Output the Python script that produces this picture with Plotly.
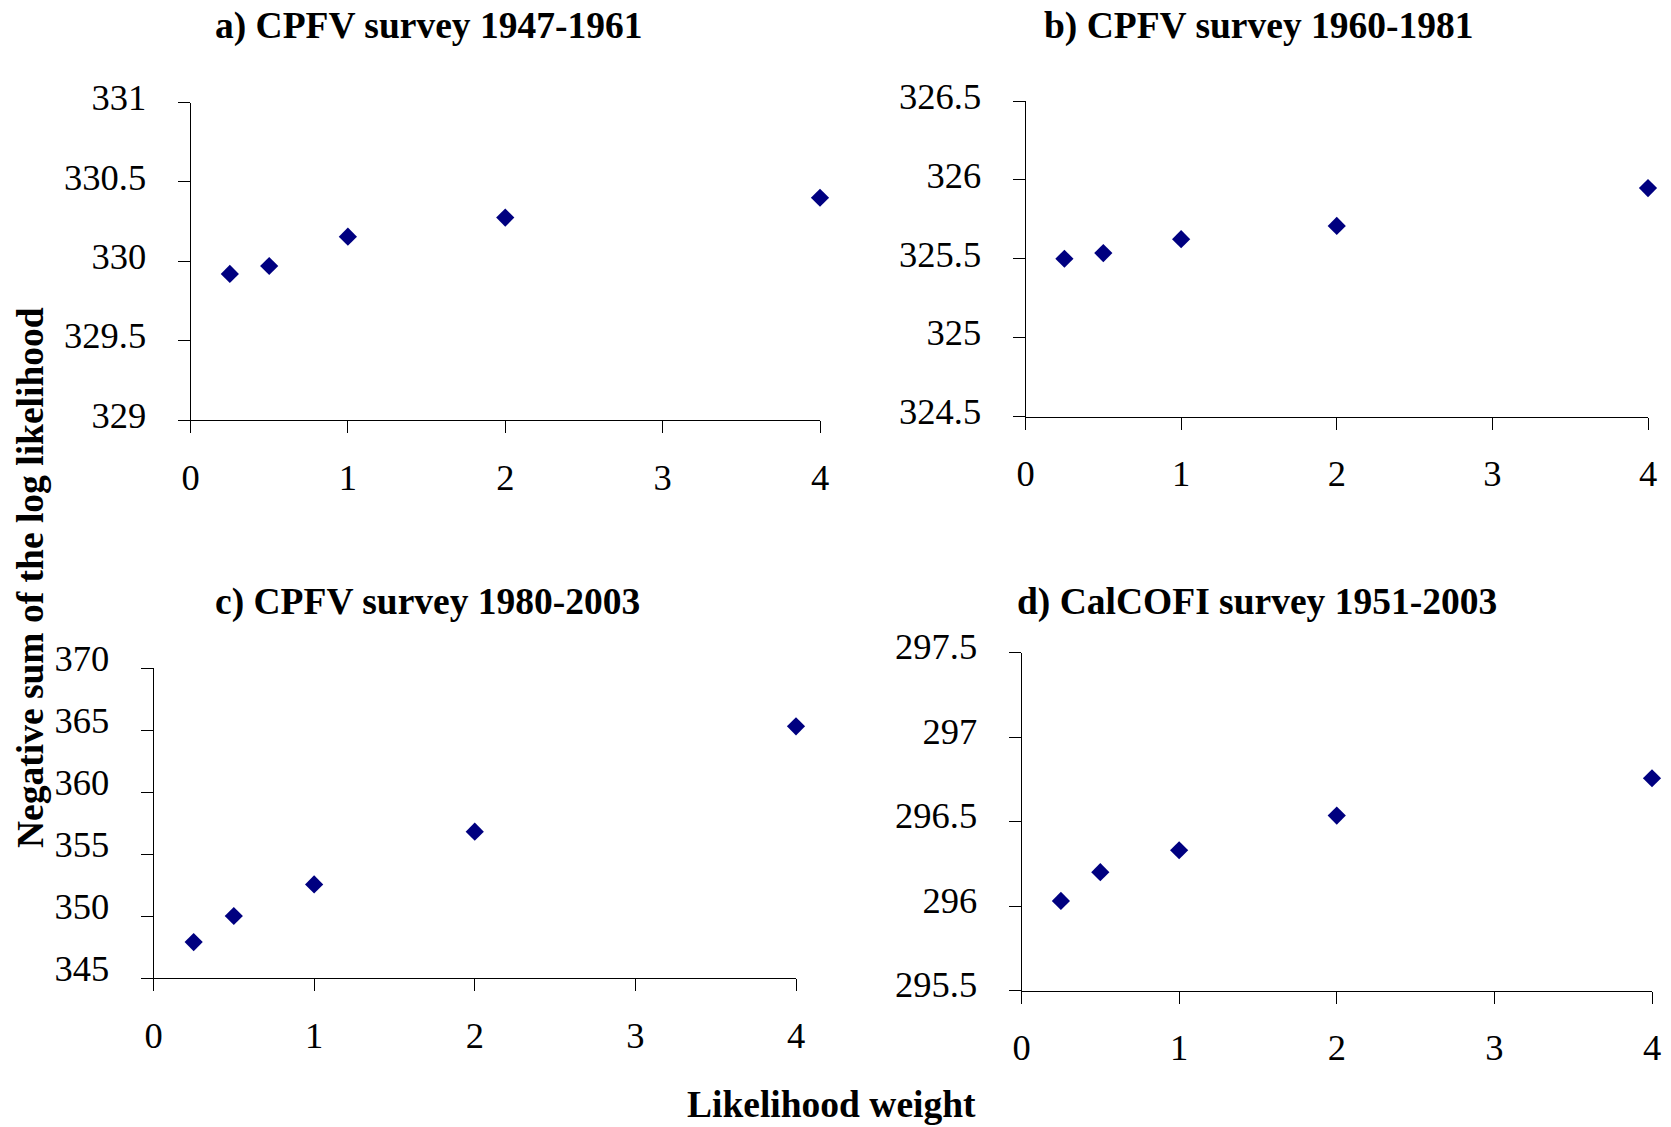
import plotly.graph_objects as go

# ---- data ----
weights = [0.25, 0.5, 1, 2, 4]
nll_a = [329.92, 329.97, 330.155, 330.275, 330.40]
nll_b = [325.50, 325.536, 325.624, 325.708, 325.948]
nll_c = [347.9, 350.0, 352.55, 356.8, 365.3]
nll_d = [296.03, 296.20, 296.33, 296.535, 296.756]

titles = ["a) CPFV survey 1947-1961", "b) CPFV survey 1960-1981",
          "c) CPFV survey 1980-2003", "d) CalCOFI survey 1951-2003"]
x_ticks = [0, 1, 2, 3, 4]
y_ticks_a = [329, 329.5, 330, 330.5, 331]
y_ticks_b = [324.5, 325, 325.5, 326, 326.5]
y_ticks_c = [345, 350, 355, 360, 365, 370]
y_ticks_d = [295.5, 296, 296.5, 297, 297.5]
y_label = "Negative sum of the log likelihood"
x_label = "Likelihood weight"

W, H = 1671, 1127
FONT = "Liberation Serif, Times New Roman, serif"
NAVY = "#000080"

# panel boxes in page pixels (left, right, top, bottom)
boxes = [(190.5, 820, 102.5, 420), (1025.5, 1648, 101, 416.5),
         (153.5, 796, 668, 978), (1021.5, 1652, 652.5, 990.5)]
series = [nll_a, nll_b, nll_c, nll_d]
yticks = [y_ticks_a, y_ticks_b, y_ticks_c, y_ticks_d]
label_shift = [-5, -5, -10, -6]
title_pos = [(428, 26), (1259, 26), (427, 602), (1257, 602)]


def px(x):
    return x / W


def py(y):
    return 1 - y / H


fig = go.Figure()
layout = dict(
    template="none",
    width=W, height=H, margin=dict(l=0, r=0, t=0, b=0, pad=0),
    paper_bgcolor="white", plot_bgcolor="white", showlegend=False,
    font=dict(family=FONT, color="black", size=36),
)
annotations = []
for i, (box, ys, yt) in enumerate(zip(boxes, series, yticks)):
    n = "" if i == 0 else str(i + 1)
    l, r, t, b = box
    fig.add_trace(go.Scatter(
        x=weights, y=ys, mode="markers", xaxis="x" + n, yaxis="y" + n,
        marker=dict(symbol="diamond", size=14, color=NAVY,
                    line=dict(width=0)),
        cliponaxis=False))
    layout["xaxis" + n] = dict(
        domain=[px(l), px(r)], anchor="y" + n, range=[0, 4],
        tickvals=x_ticks, ticktext=[str(v) for v in x_ticks],
        showline=True, linecolor="black", linewidth=1, automargin=False,
        ticks="outside", ticklen=12, tickcolor="black", tickwidth=1,
        showgrid=False, zeroline=False, ticklabelstandoff=13,
        tickfont=dict(size=36.5, family=FONT))
    layout["yaxis" + n] = dict(
        domain=[py(b), py(t)], anchor="x" + n,
        range=[yt[0], yt[-1]], tickvals=yt,
        ticktext=[("%g" % v) for v in yt],
        showline=True, linecolor="black", linewidth=1, automargin=False,
        ticks="outside", ticklen=12, tickcolor="black", tickwidth=1,
        showgrid=False, zeroline=False, ticklabelstandoff=24,
        ticklabelshift=label_shift[i],
        tickfont=dict(size=36.5, family=FONT))
    tx, ty = title_pos[i]
    annotations.append(dict(
        text="<b>%s</b>" % titles[i], x=px(tx), y=py(ty),
        xref="paper", yref="paper", xanchor="center", yanchor="middle",
        showarrow=False, font=dict(size=37.5, family=FONT)))

annotations.append(dict(
    text="<b>%s</b>" % y_label, x=px(30), y=py(578), textangle=-90,
    xref="paper", yref="paper", xanchor="center", yanchor="middle",
    showarrow=False, font=dict(size=37.5, family=FONT)))
annotations.append(dict(
    text="<b>%s</b>" % x_label, x=px(831), y=py(1104),
    xref="paper", yref="paper", xanchor="center", yanchor="middle",
    showarrow=False, font=dict(size=37.5, family=FONT)))
layout["annotations"] = annotations
fig.update_layout(**layout)
fig.write_html("out.html", config={"displayModeBar": False},
               post_script="document.body.style.margin='0';"
                           "document.body.style.padding='0';")
